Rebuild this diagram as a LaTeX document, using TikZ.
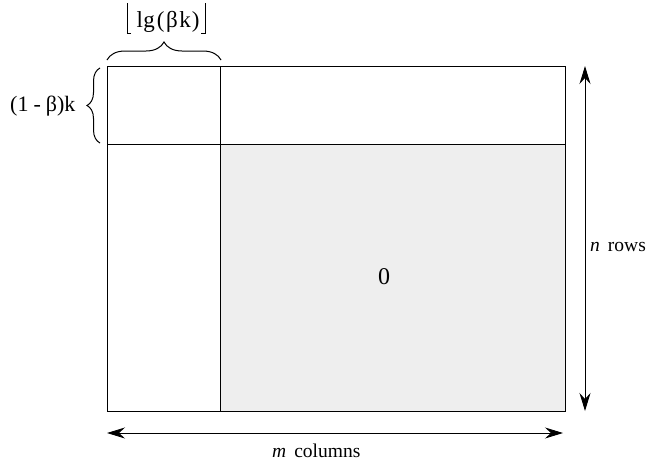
\documentclass[tikz,border=0pt]{standalone}
\usepackage{fontspec}
\setmainfont{Liberation Serif}
\usetikzlibrary{arrows.meta,decorations.pathreplacing}
\begin{document}
\begin{tikzpicture}[x=1pt,y=-1pt,
  grid/.style={line width=1pt,black},
  dimarrow/.style={line width=0.9pt,{Stealth[length=18pt,width=11pt,inset=6pt]}-{Stealth[length=18pt,width=11pt,inset=6pt]}},
  bracebig/.style={decorate,decoration={brace,amplitude=#1},line width=1pt},
  floorbr/.style={line width=0.9pt},
  lbl/.style={inner sep=0pt,font=\fontsize{19.5}{22}\selectfont}]
\useasboundingbox (0,0) rectangle (650,466);
% corners
\coordinate (tl) at (107,66);
\coordinate (br) at (565,411);
\coordinate (colTop) at (220,66);
\coordinate (colBot) at (220,411);
\coordinate (rowL) at (107,144);
\coordinate (rowR) at (565,144);
% zero block
\fill[fill={rgb,255:red,238;green,238;blue,238}] (220,144) rectangle (br);
\node[lbl,font=\fontsize{24}{26}\selectfont] (zero) at (384,277) {0};
% grid lines
\draw[grid] (tl) rectangle (br);
\draw[grid] (colTop) -- (colBot);
\draw[grid] (rowL) -- (rowR);
% dimension arrows
\coordinate (nTop) at (585,66);
\coordinate (nBot) at (585,411);
\draw[dimarrow] (nTop) -- (nBot);
\node[lbl,anchor=west] (nrows) at (590,247) {\textit{n}\hspace{8pt}rows};
\coordinate (mL) at (107,433);
\coordinate (mR) at (563,433);
\draw[dimarrow] (mL) -- (mR);
\node[lbl,anchor=west] (mcols) at (272,451) {\textit{m}\hspace{8pt}columns};
% braces
\coordinate (tbL) at (107,60);
\coordinate (tbR) at (221,60);
\draw[bracebig=18pt] (tbL) -- (tbR);
\node[lbl,font=\fontsize{23}{25}\selectfont,anchor=base] (lg) at (168,27) {l\hspace{0.5pt}g\hspace{2pt}(\hspace{1.5pt}β\hspace{1.5pt}k\hspace{1pt})};
\coordinate (flA) at (131,33);
\coordinate (flB) at (127,33);
\coordinate (flC) at (127,3);
\coordinate (frA) at (201,33);
\coordinate (frB) at (205,33);
\coordinate (frC) at (205,3);
\draw[floorbr] (flA) -- (flB) -- (flC);
\draw[floorbr] (frA) -- (frB) -- (frC);
\coordinate (lbB) at (100,143);
\coordinate (lbT) at (100,68);
\draw[bracebig=13pt] (lbB) -- (lbT);
\node[lbl,font=\fontsize{22}{24}\selectfont,anchor=west] (beta) at (10,106) {(1\hspace{5pt}-\hspace{5pt}β)k};
\end{tikzpicture}
\end{document}
